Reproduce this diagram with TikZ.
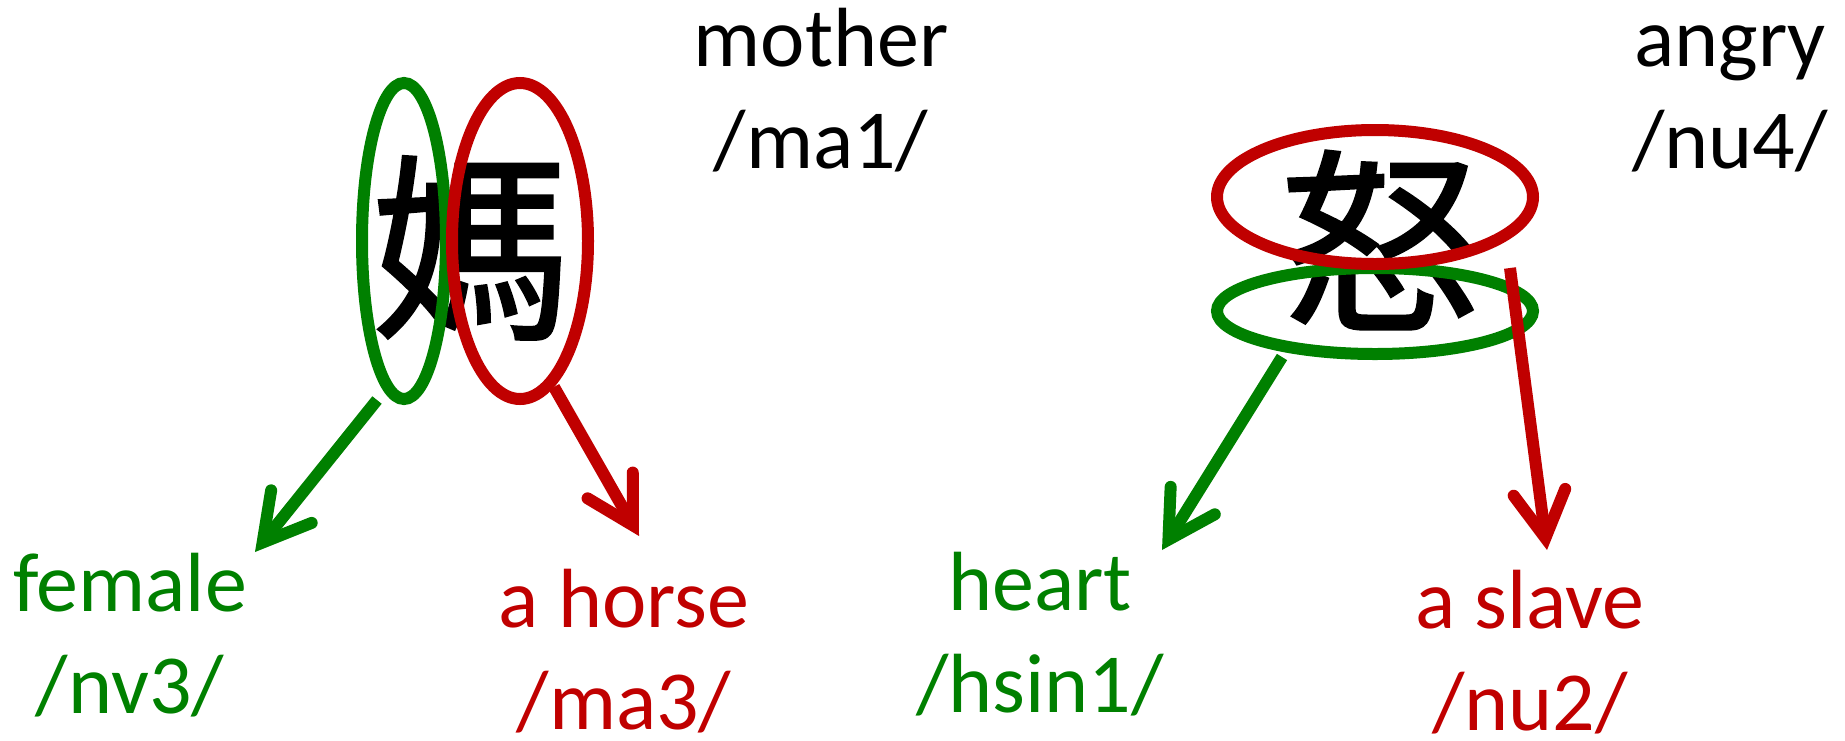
\documentclass[tikz,border=0pt]{standalone}
\usepackage{fontspec}
\setmainfont{Carlito}
\newfontfamily\cjk[FakeBold=1.2]{Noto Sans CJK TC}
\usetikzlibrary{shapes.geometric,arrows.meta}
\definecolor{radgreen}{RGB}{0,128,0}
\definecolor{radred}{RGB}{192,0,0}
\tikzset{
  hanzi/.style={font=\cjk\fontsize{200}{200}\selectfont, inner sep=0pt},
  gloss/.style={font=\fontsize{84}{102}\selectfont, align=center, anchor=base, inner sep=0pt},
  ring/.style={ellipse, draw=#1, line width=12pt, inner sep=0pt},
  part/.style={draw=#1, line width=12pt,
    -{Straight Barb[length=46pt,width=52pt,line cap=round]}},
}
\begin{document}
\begin{tikzpicture}[x=1pt,y=-1pt]
\useasboundingbox (0,0) rectangle (1845,740);

% characters
\node[hanzi] (ma) at (472,248) {媽};
\node[hanzi] (nu) at (1381,240) {怒};

% components of 媽
\node[ring=radgreen, minimum width=84pt, minimum height=316pt] (maF) at (404,241) {};
\node[ring=radred, minimum width=136pt, minimum height=316pt] (maH) at (520,241) {};

% components of 怒
\node[ring=radgreen, minimum width=316pt, minimum height=86pt] (nuX) at (1375,311) {};
\node[ring=radred, minimum width=316pt, minimum height=134pt] (nuS) at (1375,197) {};

% meanings of the whole characters (base = last line)
\node[gloss] (mother) at (821,168) {mother\\/ma1/};
\node[gloss] (angry) at (1730,168) {angry\\/nu4/};

% meanings of the components
\node[gloss, text=radgreen] (female) at (130,713) {female\\/nv3/};
\node[gloss, text=radred] (horse) at (624,729) {a horse\\/ma3/};
\node[gloss, text=radgreen] (heart) at (1040,712) {heart\\/hsin1/};
\node[gloss, text=radred] (slave) at (1530,730) {a slave\\/nu2/};

% arrow ends
\coordinate (aF) at (377,400);
\coordinate (tF) at (255,552);
\coordinate (aH) at (554,387);
\coordinate (tH) at (639,536);
\coordinate (aX) at (1282,357);
\coordinate (tX) at (1162,550);
\coordinate (aS) at (1510,268);
\coordinate (tS) at (1547,550);

\draw[part=radgreen] (aF) -- (tF);
\draw[part=radred] (aH) -- (tH);
\draw[part=radgreen] (aX) -- (tX);
\draw[part=radred] (aS) -- (tS);
\end{tikzpicture}
\end{document}
